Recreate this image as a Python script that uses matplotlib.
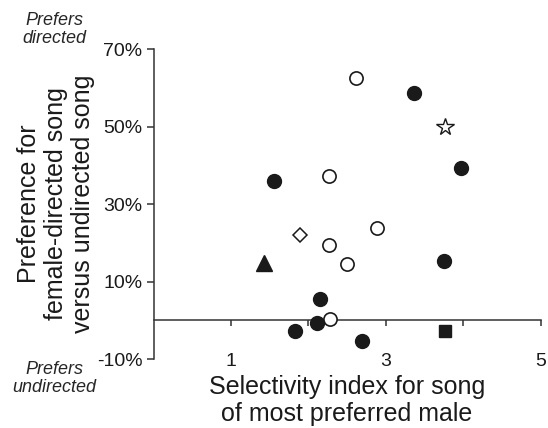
import matplotlib
matplotlib.use("Agg")
import matplotlib.pyplot as plt

plt.rcParams['font.family'] = ['Liberation Sans', 'DejaVu Sans']

# Data (selectivity index, preference %)
open_circle_x = [2.61, 2.26, 2.88, 2.26, 2.50, 2.28]
open_circle_y = [62.5, 37.1, 23.9, 19.4, 14.4, 0.4]
filled_circle_x = [3.36, 3.97, 1.56, 3.75, 2.15, 2.11, 1.83, 2.69]
filled_circle_y = [58.7, 39.2, 35.9, 15.4, 5.4, -0.7, -2.9, -5.3]
star_x = [3.76]
star_y = [50.0]
diamond_x = [1.89]
diamond_y = [21.9]
triangle_x = [1.43]
triangle_y = [14.9]
square_x = [3.77]
square_y = [-2.7]

yticks = [70, 50, 30, 10, -10]
ytick_labels = ['70%', '50%', '30%', '10%', '-10%']
xticks = [1, 2, 3, 4, 5]
xtick_labels = ['1', '', '3', '', '5']

ink = '#1a1a1a'
axc = '#333333'

fig = plt.figure(figsize=(5.48, 4.28), dpi=100)
ax = fig.add_axes([0.2803, 0.1612, 0.7064, 0.7243])

ax.plot(open_circle_x, open_circle_y, 'o', ms=9.5, mfc='white', mec=ink, mew=1.2, clip_on=False, zorder=3)
ax.plot(filled_circle_x, filled_circle_y, 'o', ms=10, mfc=ink, mec=ink, mew=1.0, clip_on=False, zorder=3)
ax.plot(star_x, star_y, '*', ms=13, mfc='white', mec=ink, mew=1.0, clip_on=False, zorder=3)
ax.plot(diamond_x, diamond_y, 'D', ms=7.5, mfc='white', mec=ink, mew=1.1, clip_on=False, zorder=3)
ax.plot(triangle_x, triangle_y, '^', ms=11.5, mfc=ink, mec=ink, mew=1.0, clip_on=False, zorder=3)
ax.plot(square_x, square_y, 's', ms=9, mfc=ink, mec=ink, mew=1.0, clip_on=False, zorder=3)

ax.set_xlim(0, 5)
ax.set_ylim(-10, 70)
for s in ['top', 'right']:
    ax.spines[s].set_visible(False)
ax.spines['bottom'].set_position(('data', 0))
for s in ['left', 'bottom']:
    ax.spines[s].set_color(axc)
    ax.spines[s].set_linewidth(1.1)

ax.set_yticks(yticks)
ax.set_yticklabels(ytick_labels)
ax.set_xticks(xticks)
ax.set_xticklabels(xtick_labels)
ax.tick_params(axis='y', direction='out', length=5, width=1.1, color=axc, pad=3, labelsize=14, labelcolor=ink)
ax.tick_params(axis='x', direction='out', length=4.5, width=1.1, color=axc, pad=19, labelsize=14, labelcolor=ink)

fig.text(0.102, 0.5 * (0.1612 + 0.8855), 'Preference for\nfemale-directed song\nversus undirected song',
         rotation=90, ha='center', va='center', fontsize=18, color=ink, linespacing=1.15)
fig.text(347 / 548, 1 - 375 / 428, 'Selectivity index for song\nof most preferred male',
         ha='center', va='top', fontsize=18, color=ink, linespacing=1.15)
fig.text(54.5 / 548, 1 - 12 / 428, 'Prefers\ndirected', ha='center', va='top', fontsize=13,
         style='italic', color='#262626', linespacing=1.1)
fig.text(54.5 / 548, 1 - 361 / 428, 'Prefers\nundirected', ha='center', va='top', fontsize=13,
         style='italic', color='#262626', linespacing=1.1)

fig.savefig('out.png', dpi=100)
